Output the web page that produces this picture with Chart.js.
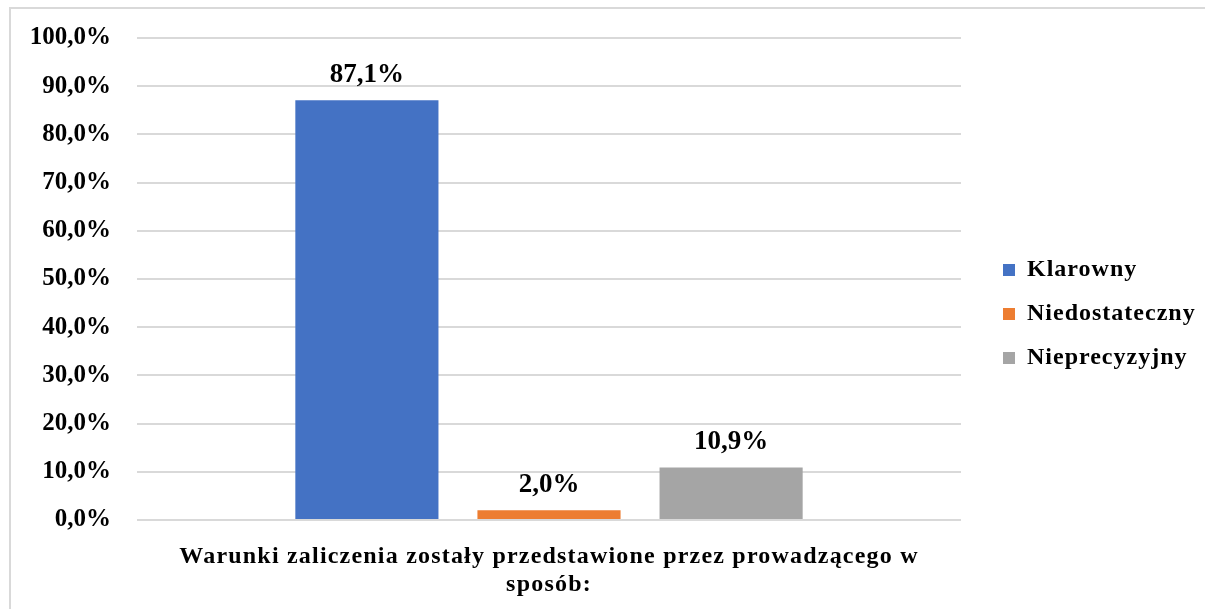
<!DOCTYPE html>
<html>
<head>
<meta charset="utf-8">
<script src="https://cdn.jsdelivr.net/npm/chart.js@4.4.0/dist/chart.umd.min.js"></script>
<style>
  html, body { margin: 0; padding: 0; background: #fff; overflow: hidden; }
  .frame { position: absolute; left: 9px; top: 7px; width: 1300px; height: 700px; border: 2px solid #d9d9d9; }
  .wrap { position: absolute; left: 0; top: 0; width: 1205px; height: 609px; }
</style>
</head>
<body>
<div class="frame"></div>
<div class="wrap"><canvas id="myChart"></canvas></div>
<script>
// chart data
const categories = [["Warunki zaliczenia zostały przedstawione przez prowadzącego w", "sposób:"]];
const seriesNames = ["Klarowny", "Niedostateczny", "Nieprecyzyjny"];
const seriesValues = [[87.1], [2.0], [10.9]];
const seriesColors = ["#4472c4", "#ed7d31", "#a5a5a5"];
const yTicks = [0, 10, 20, 30, 40, 50, 60, 70, 80, 90, 100];

const FONT = "'Liberation Serif', 'Times New Roman', serif";
const LEGEND_WIDTH = 214;

function pct(v) {
  return v.toFixed(1).replace(".", ",") + "%";
}

// run a method with canvas letter spacing turned on (and an optional shift)
function withSpacing(obj, method, sp, dy) {
  const orig = obj[method];
  obj[method] = function () {
    const c = this.ctx;
    c.save();
    c.letterSpacing = sp;
    if (dy) c.translate(0, dy);
    try {
      return orig.apply(this, arguments);
    } finally {
      c.restore();
    }
  };
}

// wide letter spacing for the legend and the category label
const spacing = {
  id: "spacing",
  afterInit(chart) {
    const lg = chart.legend;
    if (lg && !lg._spaced) {
      const fit = lg.fit;
      lg.fit = function () {
        fit.apply(this, arguments);
        this.width = LEGEND_WIDTH;
      };
      withSpacing(lg, "draw", "1px", -5);
      lg._spaced = true;
    }
  },
  afterUpdate(chart) {
    const x = chart.scales.x;
    if (x && !x._spaced) {
      withSpacing(x, "drawLabels", "1.2px", 0);
      x._spaced = true;
    }
  }
};

// draws value labels above bars
const valueLabels = {
  id: "valueLabels",
  afterDatasetsDraw(chart) {
    const ctx = chart.ctx;
    ctx.save();
    ctx.font = "bold 27px " + FONT;
    ctx.fillStyle = "#000";
    ctx.textAlign = "center";
    ctx.textBaseline = "middle";
    chart.data.datasets.forEach((ds, i) => {
      chart.getDatasetMeta(i).data.forEach((bar, j) => {
        ctx.fillText(pct(ds.data[j]), bar.x, bar.y - 25);
      });
    });
    ctx.restore();
  }
};

const ctx = document.getElementById("myChart").getContext("2d");
const myChart = new Chart(ctx, {
  type: "bar",
  data: {
    labels: categories,
    datasets: seriesNames.map((name, i) => ({
      label: name,
      data: seriesValues[i],
      backgroundColor: seriesColors[i],
      borderWidth: 0,
      barPercentage: 0.786,
      categoryPercentage: 0.663
    }))
  },
  options: {
    responsive: true,
    maintainAspectRatio: false,
    animation: false,
    layout: {
      padding: { left: 31, top: 38, right: 8, bottom: 9 }
    },
    plugins: {
      legend: {
        position: "right",
        labels: {
          color: "#000",
          font: { family: FONT, size: 24, weight: "bold" },
          boxWidth: 12,
          boxHeight: 12,
          padding: 20
        }
      },
      tooltip: { enabled: false }
    },
    scales: {
      x: {
        grid: { display: false, drawTicks: false },
        border: { display: false },
        ticks: {
          color: "#000",
          padding: 22,
          maxRotation: 0,
          minRotation: 0,
          autoSkip: false,
          font: { family: FONT, size: 24, weight: "bold" }
        },
        afterFit(scale) {
          scale.height = 80;
          scale.paddingLeft = 0;
          scale.paddingRight = 0;
        }
      },
      y: {
        min: 0,
        max: 100,
        afterBuildTicks(scale) {
          scale.ticks = yTicks.map(v => ({ value: v }));
        },
        grid: { color: "#d9d9d9", lineWidth: 2, drawTicks: false },
        border: { display: false },
        ticks: {
          color: "#000",
          padding: 26,
          font: { family: FONT, size: 25, weight: "bold" },
          callback: v => pct(v)
        },
        afterFit(scale) {
          scale.width = 106;
          scale.paddingTop = 0;
          scale.paddingBottom = 0;
        }
      },
      gap: {
        position: "right",
        grid: { display: false },
        border: { display: false },
        ticks: { display: false },
        afterFit(scale) { scale.width = 22; }
      }
    }
  },
  plugins: [spacing, valueLabels]
});
</script>
</body>
</html>
